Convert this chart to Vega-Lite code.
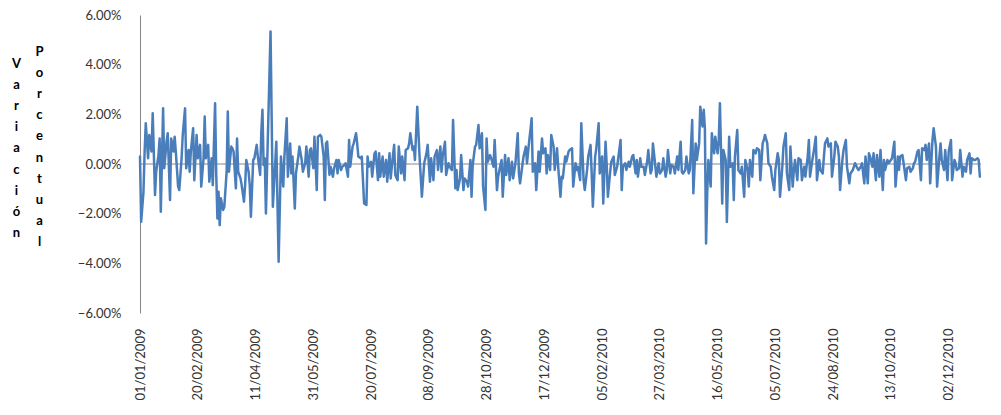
{
  "$schema": "https://vega.github.io/schema/vega-lite/v6.json",
  "width": 841,
  "height": 298,
  "autosize": {"type": "none"},
  "padding": {"left": 140, "top": 15, "right": 20, "bottom": 102},
  "background": "white",
  "config": {"view": {"stroke": null}, "font": "Lato"},
  "data": {"values": [
    {"d":"2009-01-01","v":0.30},{"d":"2009-01-02","v":-2.33},{"d":"2009-01-04","v":-1.12},{"d":"2009-01-05","v":0.50},{"d":"2009-01-06","v":1.64},{"d":"2009-01-08","v":0.23},{"d":"2009-01-09","v":1.17},{"d":"2009-01-11","v":0.50},{"d":"2009-01-12","v":2.04},{"d":"2009-01-14","v":-1.25},{"d":"2009-01-15","v":-0.31},{"d":"2009-01-17","v":0.36},{"d":"2009-01-18","v":1.03},{"d":"2009-01-19","v":-1.92},{"d":"2009-01-21","v":2.24},{"d":"2009-01-22","v":-0.17},{"d":"2009-01-24","v":0.90},{"d":"2009-01-25","v":1.24},{"d":"2009-01-27","v":-1.45},{"d":"2009-01-28","v":1.03},{"d":"2009-01-30","v":0.50},{"d":"2009-01-31","v":1.10},
    {"d":"2009-02-01","v":0.50},{"d":"2009-02-03","v":-0.91},{"d":"2009-02-04","v":-1.05},{"d":"2009-02-06","v":0.23},{"d":"2009-02-07","v":1.17},{"d":"2009-02-09","v":2.24},{"d":"2009-02-10","v":-0.17},{"d":"2009-02-12","v":0.56},{"d":"2009-02-13","v":-0.31},{"d":"2009-02-14","v":0.50},{"d":"2009-02-16","v":1.44},{"d":"2009-02-17","v":-0.65},{"d":"2009-02-19","v":1.17},{"d":"2009-02-20","v":0.23},{"d":"2009-02-22","v":0.77},{"d":"2009-02-23","v":-0.91},{"d":"2009-02-25","v":0.23},{"d":"2009-02-26","v":1.91},{"d":"2009-02-27","v":0.23},
    {"d":"2009-03-01","v":0.77},{"d":"2009-03-02","v":-0.71},{"d":"2009-03-04","v":0.23},{"d":"2009-03-05","v":-0.85},{"d":"2009-03-07","v":2.45},{"d":"2009-03-08","v":-0.44},{"d":"2009-03-09","v":-2.19},{"d":"2009-03-10","v":-1.12},{"d":"2009-03-11","v":-2.46},{"d":"2009-03-12","v":-1.38},{"d":"2009-03-14","v":-1.85},{"d":"2009-03-15","v":-1.72},{"d":"2009-03-17","v":-0.31},{"d":"2009-03-18","v":2.11},{"d":"2009-03-19","v":-0.31},{"d":"2009-03-21","v":0.70},{"d":"2009-03-22","v":0.63},{"d":"2009-03-23","v":0.50},{"d":"2009-03-25","v":-0.98},{"d":"2009-03-26","v":1.03},{"d":"2009-03-27","v":-0.31},{"d":"2009-03-29","v":-0.58},{"d":"2009-03-30","v":-0.85},
    {"d":"2009-04-01","v":-1.52},{"d":"2009-04-02","v":-0.85},{"d":"2009-04-03","v":0.16},{"d":"2009-04-05","v":-0.31},{"d":"2009-04-06","v":-0.85},{"d":"2009-04-07","v":-2.12},{"d":"2009-04-09","v":0.16},{"d":"2009-04-10","v":0.23},{"d":"2009-04-12","v":0.77},{"d":"2009-04-13","v":0.30},{"d":"2009-04-15","v":-0.44},{"d":"2009-04-16","v":1.30},{"d":"2009-04-17","v":2.18},{"d":"2009-04-18","v":-0.04},{"d":"2009-04-19","v":0.23},{"d":"2009-04-20","v":-1.99},{"d":"2009-04-24","v":5.34},{"d":"2009-04-26","v":-1.72},{"d":"2009-04-28","v":0.00},{"d":"2009-04-29","v":0.90},
    {"d":"2009-05-01","v":-3.94},{"d":"2009-05-03","v":0.30},{"d":"2009-05-05","v":-0.91},{"d":"2009-05-06","v":0.30},{"d":"2009-05-08","v":1.84},{"d":"2009-05-09","v":-0.51},{"d":"2009-05-11","v":0.83},{"d":"2009-05-12","v":-0.38},{"d":"2009-05-13","v":0.30},{"d":"2009-05-15","v":-1.79},{"d":"2009-05-16","v":-0.38},{"d":"2009-05-18","v":0.30},{"d":"2009-05-19","v":0.70},{"d":"2009-05-21","v":0.16},{"d":"2009-05-22","v":-0.31},{"d":"2009-05-24","v":0.03},{"d":"2009-05-25","v":0.70},{"d":"2009-05-27","v":-0.51},{"d":"2009-05-28","v":0.56},{"d":"2009-05-29","v":0.63},{"d":"2009-05-31","v":-0.17},
    {"d":"2009-06-01","v":1.10},{"d":"2009-06-03","v":-1.05},{"d":"2009-06-04","v":1.10},{"d":"2009-06-06","v":1.17},{"d":"2009-06-07","v":1.10},{"d":"2009-06-09","v":0.30},{"d":"2009-06-10","v":-1.45},{"d":"2009-06-11","v":0.83},{"d":"2009-06-12","v":0.90},{"d":"2009-06-14","v":-0.44},{"d":"2009-06-15","v":-0.11},{"d":"2009-06-17","v":-0.51},{"d":"2009-06-18","v":-0.17},{"d":"2009-06-20","v":0.16},{"d":"2009-06-21","v":-0.38},{"d":"2009-06-22","v":0.16},{"d":"2009-06-24","v":-0.24},{"d":"2009-06-25","v":-0.11},{"d":"2009-06-27","v":-0.04},{"d":"2009-06-28","v":0.03},{"d":"2009-06-30","v":-0.51},
    {"d":"2009-07-01","v":0.97},{"d":"2009-07-02","v":-0.11},{"d":"2009-07-04","v":0.70},{"d":"2009-07-05","v":0.83},{"d":"2009-07-07","v":1.24},{"d":"2009-07-08","v":0.83},{"d":"2009-07-09","v":0.30},{"d":"2009-07-11","v":0.23},{"d":"2009-07-12","v":0.30},{"d":"2009-07-14","v":-1.59},{"d":"2009-07-16","v":-1.65},{"d":"2009-07-17","v":0.30},{"d":"2009-07-18","v":-0.11},{"d":"2009-07-20","v":0.09},{"d":"2009-07-21","v":-0.51},{"d":"2009-07-23","v":0.43},{"d":"2009-07-24","v":0.50},{"d":"2009-07-26","v":-0.65},{"d":"2009-07-27","v":0.43},{"d":"2009-07-28","v":-0.51},{"d":"2009-07-30","v":0.30},{"d":"2009-07-31","v":-0.51},
    {"d":"2009-08-02","v":0.16},{"d":"2009-08-03","v":-0.71},{"d":"2009-08-05","v":0.43},{"d":"2009-08-06","v":-0.58},{"d":"2009-08-08","v":0.36},{"d":"2009-08-09","v":0.77},{"d":"2009-08-10","v":-0.44},{"d":"2009-08-12","v":-0.65},{"d":"2009-08-13","v":0.70},{"d":"2009-08-15","v":-0.38},{"d":"2009-08-16","v":0.30},{"d":"2009-08-18","v":-0.65},{"d":"2009-08-19","v":0.56},{"d":"2009-08-21","v":0.63},{"d":"2009-08-22","v":0.83},{"d":"2009-08-23","v":1.24},{"d":"2009-08-25","v":0.56},{"d":"2009-08-26","v":0.70},{"d":"2009-08-27","v":0.16},{"d":"2009-08-29","v":2.31},{"d":"2009-08-31","v":0.30},
    {"d":"2009-09-02","v":-1.32},{"d":"2009-09-04","v":0.03},{"d":"2009-09-06","v":0.43},{"d":"2009-09-07","v":0.77},{"d":"2009-09-09","v":-0.71},{"d":"2009-09-10","v":0.23},{"d":"2009-09-12","v":-0.65},{"d":"2009-09-13","v":0.30},{"d":"2009-09-15","v":0.56},{"d":"2009-09-16","v":-0.24},{"d":"2009-09-18","v":0.70},{"d":"2009-09-19","v":-0.31},{"d":"2009-09-20","v":0.30},{"d":"2009-09-22","v":0.90},{"d":"2009-09-23","v":-0.44},{"d":"2009-09-25","v":0.03},{"d":"2009-09-26","v":-0.11},{"d":"2009-09-28","v":-0.24},{"d":"2009-09-29","v":1.77},
    {"d":"2009-10-01","v":-0.98},{"d":"2009-10-02","v":-0.24},{"d":"2009-10-03","v":-1.05},{"d":"2009-10-05","v":-0.58},{"d":"2009-10-06","v":0.36},{"d":"2009-10-08","v":-1.05},{"d":"2009-10-09","v":-0.58},{"d":"2009-10-11","v":-0.71},{"d":"2009-10-12","v":-0.91},{"d":"2009-10-14","v":0.16},{"d":"2009-10-15","v":-1.32},{"d":"2009-10-16","v":-0.04},{"d":"2009-10-18","v":0.70},{"d":"2009-10-19","v":0.77},{"d":"2009-10-21","v":1.57},{"d":"2009-10-22","v":0.63},{"d":"2009-10-24","v":1.24},{"d":"2009-10-25","v":-0.91},{"d":"2009-10-27","v":-1.85},{"d":"2009-10-28","v":1.03},{"d":"2009-10-29","v":0.09},{"d":"2009-10-31","v":0.36},
    {"d":"2009-11-01","v":0.23},{"d":"2009-11-03","v":-0.11},{"d":"2009-11-04","v":0.97},{"d":"2009-11-06","v":-1.05},{"d":"2009-11-07","v":-0.51},{"d":"2009-11-09","v":-0.04},{"d":"2009-11-10","v":0.16},{"d":"2009-11-11","v":-1.32},{"d":"2009-11-13","v":0.36},{"d":"2009-11-14","v":-0.44},{"d":"2009-11-16","v":0.23},{"d":"2009-11-17","v":-0.65},{"d":"2009-11-19","v":0.09},{"d":"2009-11-20","v":-0.58},{"d":"2009-11-22","v":0.03},{"d":"2009-11-24","v":1.24},{"d":"2009-11-25","v":-0.38},{"d":"2009-11-26","v":-0.78},{"d":"2009-11-28","v":-0.04},{"d":"2009-11-29","v":0.30},
    {"d":"2009-12-01","v":0.70},{"d":"2009-12-02","v":0.03},{"d":"2009-12-04","v":0.97},{"d":"2009-12-05","v":1.37},{"d":"2009-12-06","v":1.84},{"d":"2009-12-07","v":-0.31},{"d":"2009-12-09","v":0.03},{"d":"2009-12-10","v":-1.05},{"d":"2009-12-12","v":0.50},{"d":"2009-12-13","v":-0.31},{"d":"2009-12-15","v":1.03},{"d":"2009-12-16","v":0.43},{"d":"2009-12-18","v":0.63},{"d":"2009-12-19","v":-0.38},{"d":"2009-12-20","v":0.36},{"d":"2009-12-22","v":-0.24},{"d":"2009-12-23","v":1.17},{"d":"2009-12-25","v":0.70},{"d":"2009-12-26","v":-0.24},{"d":"2009-12-28","v":0.63},{"d":"2009-12-29","v":-0.11},{"d":"2009-12-31","v":-1.32},
    {"d":"2010-01-01","v":-0.51},{"d":"2010-01-02","v":-0.58},{"d":"2010-01-04","v":0.30},{"d":"2010-01-05","v":0.09},{"d":"2010-01-07","v":0.50},{"d":"2010-01-08","v":0.56},{"d":"2010-01-10","v":0.63},{"d":"2010-01-11","v":-0.91},{"d":"2010-01-13","v":0.03},{"d":"2010-01-14","v":-0.24},{"d":"2010-01-15","v":-0.11},{"d":"2010-01-17","v":-0.65},{"d":"2010-01-18","v":1.64},{"d":"2010-01-20","v":-0.65},{"d":"2010-01-21","v":-1.05},{"d":"2010-01-23","v":-0.24},{"d":"2010-01-24","v":0.30},{"d":"2010-01-26","v":0.77},{"d":"2010-01-27","v":-0.38},{"d":"2010-01-28","v":-1.72},{"d":"2010-01-30","v":0.30},{"d":"2010-01-31","v":0.63},
    {"d":"2010-02-02","v":1.64},{"d":"2010-02-03","v":-0.38},{"d":"2010-02-05","v":0.30},{"d":"2010-02-06","v":-1.59},{"d":"2010-02-08","v":0.90},{"d":"2010-02-09","v":-0.04},{"d":"2010-02-10","v":-1.32},{"d":"2010-02-12","v":-0.31},{"d":"2010-02-13","v":0.09},{"d":"2010-02-15","v":0.30},{"d":"2010-02-16","v":-0.44},{"d":"2010-02-18","v":-0.11},{"d":"2010-02-19","v":0.23},{"d":"2010-02-21","v":0.97},{"d":"2010-02-22","v":-1.05},{"d":"2010-02-23","v":-0.11},{"d":"2010-02-25","v":0.03},{"d":"2010-02-26","v":-0.24},{"d":"2010-02-28","v":0.09},
    {"d":"2010-03-01","v":-0.11},{"d":"2010-03-03","v":0.30},{"d":"2010-03-04","v":0.36},{"d":"2010-03-06","v":-0.38},{"d":"2010-03-07","v":0.16},{"d":"2010-03-08","v":-0.51},{"d":"2010-03-10","v":0.23},{"d":"2010-03-11","v":-0.11},{"d":"2010-03-13","v":-0.11},{"d":"2010-03-14","v":-0.44},{"d":"2010-03-16","v":0.09},{"d":"2010-03-17","v":0.56},{"d":"2010-03-19","v":-0.38},{"d":"2010-03-20","v":-0.24},{"d":"2010-03-21","v":0.83},{"d":"2010-03-23","v":-0.04},{"d":"2010-03-24","v":-0.51},{"d":"2010-03-26","v":0.03},{"d":"2010-03-27","v":-0.38},{"d":"2010-03-29","v":-0.24},{"d":"2010-03-30","v":0.23},
    {"d":"2010-04-01","v":-0.51},{"d":"2010-04-02","v":-0.24},{"d":"2010-04-03","v":0.56},{"d":"2010-04-05","v":-0.38},{"d":"2010-04-06","v":-0.04},{"d":"2010-04-08","v":-0.11},{"d":"2010-04-09","v":-0.38},{"d":"2010-04-11","v":0.30},{"d":"2010-04-12","v":-0.24},{"d":"2010-04-14","v":0.90},{"d":"2010-04-15","v":-0.31},{"d":"2010-04-16","v":-0.38},{"d":"2010-04-18","v":-0.24},{"d":"2010-04-19","v":0.30},{"d":"2010-04-21","v":-0.38},{"d":"2010-04-22","v":-0.24},{"d":"2010-04-24","v":1.77},{"d":"2010-04-25","v":-1.18},{"d":"2010-04-27","v":0.83},{"d":"2010-04-28","v":0.16},{"d":"2010-04-30","v":0.83},
    {"d":"2010-05-01","v":2.31},{"d":"2010-05-03","v":1.51},{"d":"2010-05-04","v":2.18},{"d":"2010-05-05","v":1.40},{"d":"2010-05-06","v":-3.20},{"d":"2010-05-07","v":-1.18},{"d":"2010-05-08","v":0.16},{"d":"2010-05-10","v":-0.91},{"d":"2010-05-11","v":1.24},{"d":"2010-05-13","v":0.43},{"d":"2010-05-14","v":1.10},{"d":"2010-05-16","v":0.43},{"d":"2010-05-17","v":0.97},{"d":"2010-05-18","v":2.45},{"d":"2010-05-20","v":-1.59},{"d":"2010-05-21","v":0.56},{"d":"2010-05-23","v":0.16},{"d":"2010-05-24","v":-2.33},{"d":"2010-05-26","v":1.10},{"d":"2010-05-27","v":-0.11},{"d":"2010-05-29","v":0.03},{"d":"2010-05-30","v":-1.45},{"d":"2010-05-31","v":0.30},
    {"d":"2010-06-02","v":1.37},{"d":"2010-06-03","v":-0.24},{"d":"2010-06-05","v":-0.38},{"d":"2010-06-06","v":-0.11},{"d":"2010-06-08","v":-1.32},{"d":"2010-06-09","v":0.16},{"d":"2010-06-11","v":-0.24},{"d":"2010-06-12","v":-0.91},{"d":"2010-06-13","v":0.16},{"d":"2010-06-15","v":-0.51},{"d":"2010-06-16","v":0.56},{"d":"2010-06-18","v":0.43},{"d":"2010-06-19","v":0.63},{"d":"2010-06-21","v":0.56},{"d":"2010-06-22","v":-0.65},{"d":"2010-06-24","v":0.83},{"d":"2010-06-25","v":0.97},{"d":"2010-06-26","v":1.17},{"d":"2010-06-28","v":0.83},{"d":"2010-06-29","v":0.03},
    {"d":"2010-07-01","v":-0.11},{"d":"2010-07-02","v":-0.51},{"d":"2010-07-04","v":-1.05},{"d":"2010-07-05","v":-0.24},{"d":"2010-07-07","v":0.43},{"d":"2010-07-08","v":0.16},{"d":"2010-07-09","v":-1.32},{"d":"2010-07-11","v":-0.11},{"d":"2010-07-12","v":0.70},{"d":"2010-07-14","v":1.24},{"d":"2010-07-15","v":-0.38},{"d":"2010-07-17","v":-1.05},{"d":"2010-07-18","v":0.70},{"d":"2010-07-20","v":-0.91},{"d":"2010-07-21","v":-0.24},{"d":"2010-07-22","v":0.16},{"d":"2010-07-24","v":-0.65},{"d":"2010-07-25","v":0.23},{"d":"2010-07-27","v":0.16},{"d":"2010-07-28","v":-0.65},{"d":"2010-07-30","v":-0.11},{"d":"2010-07-31","v":-0.51},
    {"d":"2010-08-02","v":0.30},{"d":"2010-08-03","v":0.97},{"d":"2010-08-04","v":-0.51},{"d":"2010-08-06","v":0.16},{"d":"2010-08-07","v":0.43},{"d":"2010-08-09","v":1.10},{"d":"2010-08-10","v":-0.65},{"d":"2010-08-12","v":0.16},{"d":"2010-08-13","v":-0.24},{"d":"2010-08-15","v":-0.38},{"d":"2010-08-16","v":0.30},{"d":"2010-08-17","v":0.83},{"d":"2010-08-19","v":1.03},{"d":"2010-08-20","v":0.70},{"d":"2010-08-22","v":0.83},{"d":"2010-08-23","v":-0.51},{"d":"2010-08-25","v":0.30},{"d":"2010-08-26","v":0.90},{"d":"2010-08-28","v":0.70},{"d":"2010-08-29","v":0.30},{"d":"2010-08-30","v":-1.05},
    {"d":"2010-09-01","v":0.16},{"d":"2010-09-02","v":0.56},{"d":"2010-09-04","v":0.97},{"d":"2010-09-05","v":-0.11},{"d":"2010-09-07","v":-0.78},{"d":"2010-09-08","v":-0.38},{"d":"2010-09-10","v":-0.24},{"d":"2010-09-11","v":-0.11},{"d":"2010-09-12","v":0.03},{"d":"2010-09-14","v":-0.17},{"d":"2010-09-15","v":-0.24},{"d":"2010-09-17","v":-0.11},{"d":"2010-09-18","v":0.03},{"d":"2010-09-20","v":-0.78},{"d":"2010-09-21","v":0.30},{"d":"2010-09-23","v":-0.78},{"d":"2010-09-24","v":0.43},{"d":"2010-09-25","v":0.30},{"d":"2010-09-27","v":-0.11},{"d":"2010-09-28","v":0.43},{"d":"2010-09-30","v":-0.65},
    {"d":"2010-10-01","v":0.36},{"d":"2010-10-03","v":-0.51},{"d":"2010-10-04","v":0.56},{"d":"2010-10-06","v":-1.05},{"d":"2010-10-07","v":0.16},{"d":"2010-10-08","v":-0.24},{"d":"2010-10-10","v":0.16},{"d":"2010-10-11","v":0.03},{"d":"2010-10-13","v":0.16},{"d":"2010-10-14","v":0.23},{"d":"2010-10-16","v":0.90},{"d":"2010-10-17","v":-0.91},{"d":"2010-10-19","v":0.30},{"d":"2010-10-20","v":-0.24},{"d":"2010-10-21","v":0.30},{"d":"2010-10-23","v":0.36},{"d":"2010-10-24","v":0.03},{"d":"2010-10-26","v":-0.65},{"d":"2010-10-27","v":-0.17},{"d":"2010-10-29","v":-0.11},{"d":"2010-10-30","v":-0.31},
    {"d":"2010-11-01","v":-0.17},{"d":"2010-11-02","v":0.03},{"d":"2010-11-03","v":0.09},{"d":"2010-11-05","v":0.50},{"d":"2010-11-06","v":0.56},{"d":"2010-11-08","v":-0.65},{"d":"2010-11-09","v":0.63},{"d":"2010-11-11","v":0.56},{"d":"2010-11-12","v":0.77},{"d":"2010-11-13","v":0.16},{"d":"2010-11-15","v":0.83},{"d":"2010-11-16","v":-0.78},{"d":"2010-11-18","v":0.97},{"d":"2010-11-19","v":1.44},{"d":"2010-11-21","v":0.70},{"d":"2010-11-22","v":-0.91},{"d":"2010-11-24","v":0.30},{"d":"2010-11-25","v":0.83},{"d":"2010-11-26","v":0.16},{"d":"2010-11-28","v":-0.24},{"d":"2010-11-29","v":0.56},
    {"d":"2010-12-01","v":-0.65},{"d":"2010-12-02","v":0.50},{"d":"2010-12-04","v":0.97},{"d":"2010-12-05","v":-0.65},{"d":"2010-12-07","v":0.16},{"d":"2010-12-08","v":0.03},{"d":"2010-12-09","v":-0.24},{"d":"2010-12-11","v":-0.17},{"d":"2010-12-12","v":0.56},{"d":"2010-12-14","v":-0.51},{"d":"2010-12-15","v":-0.11},{"d":"2010-12-17","v":-0.31},{"d":"2010-12-18","v":0.16},{"d":"2010-12-20","v":0.43},{"d":"2010-12-21","v":-0.38},{"d":"2010-12-22","v":0.23},{"d":"2010-12-24","v":0.16},{"d":"2010-12-25","v":0.16},{"d":"2010-12-27","v":0.23},{"d":"2010-12-28","v":0.16},{"d":"2010-12-29","v":-0.51}
  ]},
  "layer": [
    {
      "data": {"values": [{"z": 0}]},
      "mark": {"type": "rule", "color": "#868686", "strokeWidth": 1},
      "encoding": {
        "y": {
          "field": "z", "type": "quantitative",
          "scale": {"domain": [-6, 6], "nice": false, "zero": false},
          "axis": {
            "orient": "left", "labels": false, "ticks": false, "domain": false, "grid": false,
            "title": ["P", "o", "r", "c", "e", "n", "t", "u", "a", "l"],
            "titleAngle": 0, "titleAlign": "center", "titleBaseline": "alphabetic",
            "titleX": -101, "titleY": 40, "titleLineHeight": 21.2,
            "titleFont": "Lato", "titleFontSize": 13, "titleFontWeight": "bold", "titleColor": "#000000"
          }
        }
      }
    },
    {
      "mark": {"type": "line", "color": "#4A7EBB", "strokeWidth": 2.5, "strokeJoin": "round", "strokeCap": "round"},
      "encoding": {
        "x": {
          "field": "d", "type": "temporal",
          "scale": {"type": "utc", "domain": [{"year": 2009, "month": 1, "date": 1, "utc": true}, {"year": 2010, "month": 12, "date": 30, "utc": true}], "nice": false},
          "axis": {
            "values": [
              {"year": 2009, "month": 1, "date": 1, "utc": true},
              {"year": 2009, "month": 2, "date": 20, "utc": true},
              {"year": 2009, "month": 4, "date": 11, "utc": true},
              {"year": 2009, "month": 5, "date": 31, "utc": true},
              {"year": 2009, "month": 7, "date": 20, "utc": true},
              {"year": 2009, "month": 9, "date": 8, "utc": true},
              {"year": 2009, "month": 10, "date": 28, "utc": true},
              {"year": 2009, "month": 12, "date": 17, "utc": true},
              {"year": 2010, "month": 2, "date": 5, "utc": true},
              {"year": 2010, "month": 3, "date": 27, "utc": true},
              {"year": 2010, "month": 5, "date": 16, "utc": true},
              {"year": 2010, "month": 7, "date": 5, "utc": true},
              {"year": 2010, "month": 8, "date": 24, "utc": true},
              {"year": 2010, "month": 10, "date": 13, "utc": true},
              {"year": 2010, "month": 12, "date": 2, "utc": true}
            ],
            "format": "%d/%m/%Y",
            "labelAngle": 270, "labelAlign": "right", "labelBaseline": "middle",
            "labelPadding": 15, "labelFont": "Lato", "labelFontSize": 13, "labelColor": "#333333",
            "labelOverlap": false, "labelFlush": false,
            "ticks": false, "domain": false, "grid": false, "title": null
          }
        },
        "y": {
          "field": "v", "type": "quantitative",
          "scale": {"domain": [-6, 6], "nice": false, "zero": false},
          "axis": {
            "orient": "left",
            "values": [-6, -4, -2, 0, 2, 4, 6],
            "labelExpr": "format(datum.value, '.2f') + '%'",
            "labelFont": "Lato", "labelFontSize": 13, "labelColor": "#333333", "labelPadding": 19,
            "ticks": false, "grid": false, "domain": true, "domainColor": "#868686", "domainWidth": 1,
            "title": ["V", "a", "r", "i", "a", "c", "i", "ó", "n"],
            "titleAngle": 0, "titleAlign": "center", "titleBaseline": "alphabetic",
            "titleX": -124, "titleY": 52, "titleLineHeight": 21.2,
            "titleFont": "Lato", "titleFontSize": 13, "titleFontWeight": "bold", "titleColor": "#000000"
          }
        }
      }
    }
  ],
  "resolve": {"scale": {"y": "independent"}}
}
